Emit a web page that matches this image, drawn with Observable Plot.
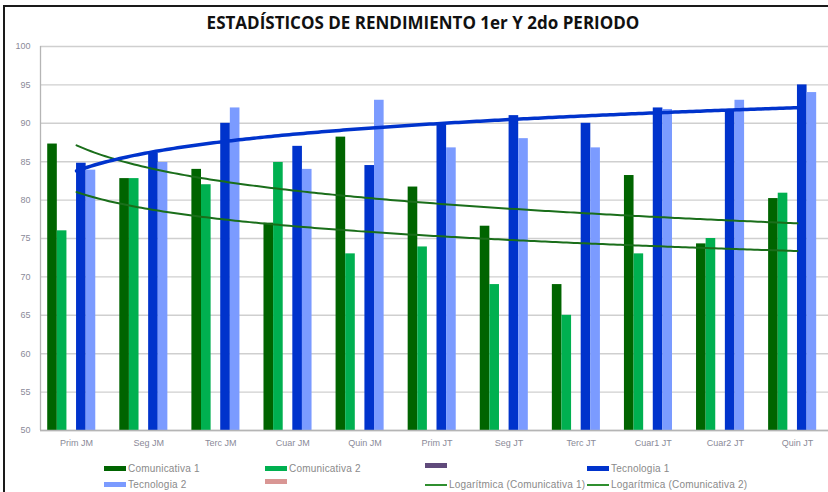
<!DOCTYPE html>
<html>
<head>
<meta charset="utf-8">
<script src="https://cdn.jsdelivr.net/npm/d3@7"></script>
<script src="https://cdn.jsdelivr.net/npm/@observablehq/plot@0.6"></script>
<style>
  html, body { margin: 0; padding: 0; background: #fff; overflow: hidden; width: 828px; height: 492px; }
  #frame { position: absolute; left: 3px; top: 5px; width: 900px; height: 600px; border-left: 2px solid #1a1a1a; border-top: 2px solid #1a1a1a; }
  #title { position: absolute; left: 0; top: 14px; width: 846px; text-align: center; font-family: "Open Sans", sans-serif; font-weight: 700; font-size: 17px; line-height: 17px; color: #111; }
  #chart { position: absolute; left: 0; top: 0; width: 840px; }
  #chart svg { max-width: none !important; }
  .leg { position: absolute; font-family: "Liberation Sans", sans-serif; font-size: 10px; letter-spacing: 0.2px; line-height: 11px; color: #8a8a8a; display: flex; align-items: center; white-space: nowrap; }
  .sw { display: inline-block; width: 22px; margin-right: 2px; }
</style>
</head>
<body>
<div id="frame"></div>
<div id="title">ESTADÍSTICOS DE RENDIMIENTO 1er Y 2do PERIODO</div>
<div id="chart"></div>
<div id="legend"></div>
<script>
const categories = ["Prim JM","Seg JM","Terc JM","Cuar JM","Quin JM","Prim JT","Seg JT","Terc JT","Cuar1 JT","Cuar2 JT","Quin JT"];
const comunicativa1 = [87.3, 82.8, 84.0, 77.0, 88.2, 81.7, 76.6, 69.0, 83.2, 74.3, 80.2];
const comunicativa2 = [76.0, 82.8, 82.0, 84.9, 73.0, 73.9, 69.0, 65.0, 73.0, 75.0, 80.9];
const tecnologia1   = [84.8, 86.1, 90.0, 87.0, 84.5, 89.8, 91.0, 90.0, 92.0, 91.7, 95.0];
const tecnologia2   = [83.9, 84.9, 92.0, 84.0, 93.0, 86.8, 88.0, 86.8, 91.8, 93.0, 94.0];
const seriesNames  = ["Comunicativa 1", "Comunicativa 2", "", "Tecnologia 1", "Tecnologia 2", ""];
const seriesColors = ["#006400", "#00b050", "#604a7b", "#0033cc", "#7b9bff", "#d99694"];
const trendNames   = ["Logarítmica (Comunicativa 1)", "Logarítmica (Comunicativa 2)"];
const yTicks = [50, 55, 60, 65, 70, 75, 80, 85, 90, 95, 100];

const seriesValues = [comunicativa1, comunicativa2, null, tecnologia1, tecnologia2, null];
const nSlots = seriesNames.length;
const groupWidth = 0.8;
const slot = groupWidth / nSlots;

const bars = [];
seriesValues.forEach((vals, s) => {
  if (!vals) return;
  vals.forEach((v, i) => {
    const x1 = i - groupWidth / 2 + s * slot;
    bars.push({i, s, x1, x2: x1 + slot, value: v, color: seriesColors[s]});
  });
});

// Excel-style logarithmic trendline fitted to each series: y = a + b ln(n), n = 1..N
function logTrend(vals, name) {
  const n = vals.length;
  const lx = vals.map((_, i) => Math.log(i + 1));
  const mx = d3.mean(lx), my = d3.mean(vals);
  const b = d3.sum(lx, (l, i) => (l - mx) * (vals[i] - my)) / d3.sum(lx, l => (l - mx) ** 2);
  const a = my - b * mx;
  const pts = [];
  for (let k = 0; k <= (n - 1) * 20; k++) {
    const t = 1 + k / 20;
    pts.push({x: t - 1, y: a + b * Math.log(t), name});
  }
  return pts;
}
const trendC1 = logTrend(comunicativa1, "c1");
const trendC2 = logTrend(comunicativa2, "c2");
const trendT1 = logTrend(tecnologia1, "t1");

const plot = Plot.plot({
  width: 840,
  height: 456,
  marginLeft: 40,
  marginRight: 7,
  marginTop: 46,
  marginBottom: 26,
  style: {fontFamily: "Liberation Sans, sans-serif", fontSize: "9px", color: "#808080", background: "transparent", maxWidth: "none"},
  x: {type: "linear", domain: [-0.5, categories.length - 0.5]},
  y: {domain: [50, 100]},
  marks: [
    Plot.ruleY(yTicks, {stroke: "#cfcfcf", strokeWidth: 1.4}),
    Plot.axisY({ticks: yTicks, tickSize: 0, tickPadding: 10, tickFormat: d => d, label: null, fill: "#8a8a98"}),
    Plot.axisX({ticks: d3.range(categories.length), tickSize: 0, tickPadding: 9, tickFormat: i => categories[i], label: null, fill: "#8a8a98"}),
    Plot.rect(bars, {x1: "x1", x2: "x2", y1: 50, y2: "value", fill: "color", inset: 0}),
    Plot.ruleX([-0.5], {stroke: "#b5b5b5", strokeWidth: 1.3}),
    Plot.ruleY([50], {stroke: "#b5b5b5", strokeWidth: 1.3}),
    Plot.line(trendC1, {x: "x", y: "y", stroke: "#1a6e1a", strokeWidth: 2, curve: "linear"}),
    Plot.line(trendC2, {x: "x", y: "y", stroke: "#1a6e1a", strokeWidth: 2, curve: "linear"}),
    Plot.line(trendT1, {x: "x", y: "y", stroke: "#0033cc", strokeWidth: 3.5, curve: "linear"})
  ]
});
document.getElementById("chart").appendChild(plot);

// Legend
const legendItems = [
  {label: seriesNames[0], color: seriesColors[0], kind: "bar"},
  {label: seriesNames[1], color: seriesColors[1], kind: "bar"},
  {label: seriesNames[2], color: seriesColors[2], kind: "bar"},
  {label: seriesNames[3], color: seriesColors[3], kind: "bar"},
  {label: seriesNames[4], color: seriesColors[4], kind: "bar"},
  {label: seriesNames[5], color: seriesColors[5], kind: "bar"},
  {label: trendNames[0], color: "#2f8f2f", kind: "line"},
  {label: trendNames[1], color: "#2f8f2f", kind: "line"}
];
const colX = [104, 265, 425, 587];
const rowY = [463, 479];
const legend = document.getElementById("legend");
legendItems.forEach((it, k) => {
  const el = document.createElement("div");
  el.className = "leg";
  el.style.left = colX[k % 4] + "px";
  el.style.top = rowY[Math.floor(k / 4)] + "px";
  const sw = document.createElement("span");
  sw.className = "sw";
  sw.style.height = it.kind === "bar" ? "5px" : "2px";
  sw.style.background = it.color;
  el.appendChild(sw);
  const tx = document.createElement("span");
  tx.textContent = it.label;
  el.appendChild(tx);
  legend.appendChild(el);
});
</script>
</body>
</html>
